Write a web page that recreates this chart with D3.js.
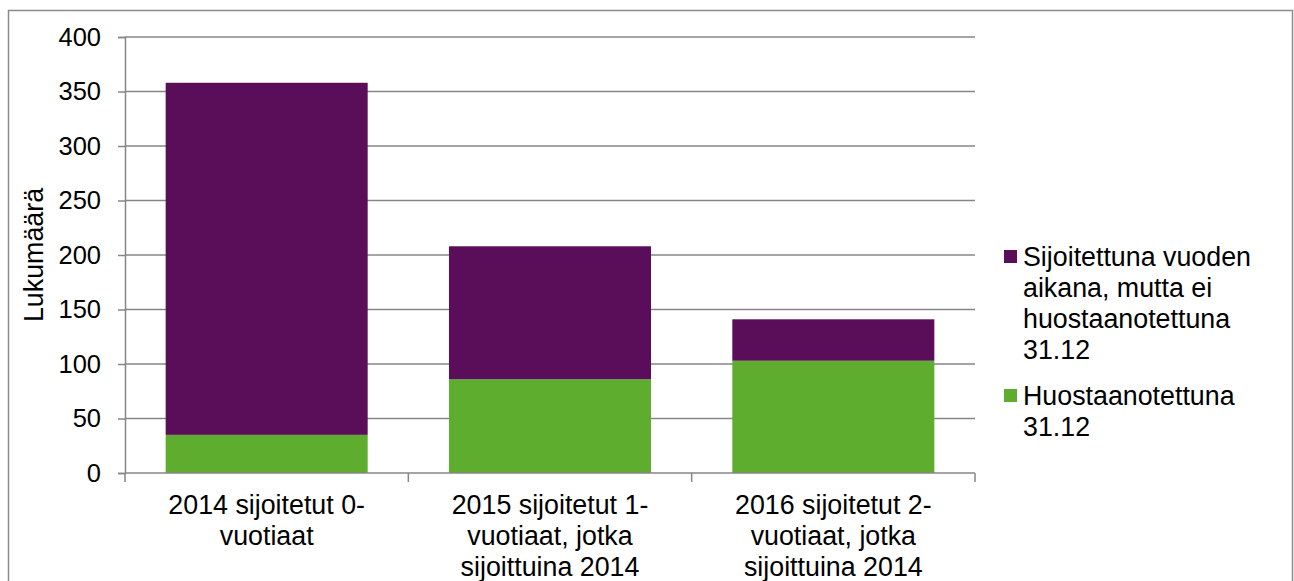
<!DOCTYPE html>
<html>
<head>
<meta charset="utf-8">
<script src="https://cdn.jsdelivr.net/npm/d3@7"></script>
<style>
  html, body { margin: 0; padding: 0; background: #fff; }
  svg { display: block; font-family: "Liberation Sans", Arial, sans-serif; }
</style>
</head>
<body>
<div id="chart"></div>
<script>
// pinotut pylväät: sijoitetut lapset kohorteittain

const categories = [
  ["2014 sijoitetut 0-", "vuotiaat"],
  ["2015 sijoitetut 1-", "vuotiaat, jotka", "sijoittuina 2014"],
  ["2016 sijoitetut 2-", "vuotiaat, jotka", "sijoittuina 2014"]
];
const huostaan = [35, 86, 103];          // Huostaanotettuna 31.12
const sijoitettuEiHuostaan = [323, 122, 38]; // Sijoitettuna vuoden aikana, mutta ei huostaanotettuna 31.12
const yTicks = [0, 50, 100, 150, 200, 250, 300, 350, 400];
const seriesNames = [
  ["Sijoitettuna vuoden", "aikana, mutta ei", "huostaanotettuna", "31.12"],
  ["Huostaanotettuna", "31.12"]
];
const colors = ["#5a0d59", "#5fad2e"];

const width = 1294, height = 581;
const plot = { left: 125, right: 975, top: 37, bottom: 473 };
const fontSize = 26.8;
const tickFontSize = 25.5;

const svg = d3.select("#chart").append("svg")
  .attr("width", width)
  .attr("height", height);

// ulkoreunus
svg.append("rect")
  .attr("x", 8.5).attr("y", 10.5)
  .attr("width", 1284).attr("height", 600)
  .attr("fill", "none")
  .attr("stroke", "#8c8c8c")
  .attr("stroke-width", 1.5);

const x = d3.scaleBand()
  .domain(d3.range(categories.length))
  .range([plot.left, plot.right])
  .paddingInner(0.287)
  .paddingOuter(0.1435);

const y = d3.scaleLinear().domain([0, 400]).range([plot.bottom, plot.top]);

// ruudukko
svg.append("g")
  .selectAll("line")
  .data(yTicks.filter(d => d > 0))
  .join("line")
  .attr("x1", plot.left).attr("x2", plot.right)
  .attr("y1", d => y(d)).attr("y2", d => y(d))
  .attr("stroke", "#868686")
  .attr("stroke-width", 1.5);

// pylväät
const stacked = categories.map((c, i) => [
  { y0: 0, y1: huostaan[i], c: colors[1] },
  { y0: huostaan[i], y1: huostaan[i] + sijoitettuEiHuostaan[i], c: colors[0] }
]);

svg.append("g")
  .selectAll("g")
  .data(stacked)
  .join("g")
  .selectAll("rect")
  .data((d, i) => d.map(s => ({ ...s, i })))
  .join("rect")
  .attr("x", d => x(d.i))
  .attr("width", x.bandwidth())
  .attr("y", d => y(d.y1))
  .attr("height", d => y(d.y0) - y(d.y1))
  .attr("fill", d => d.c);

// y-akseli
const yAxisG = svg.append("g")
  .attr("transform", `translate(${plot.left},0)`)
  .call(d3.axisLeft(y).tickValues(yTicks).tickSize(7).tickPadding(17));
yAxisG.select(".domain").attr("stroke", "#868686").attr("stroke-width", 1.5);
yAxisG.selectAll(".tick line").attr("stroke", "#868686").attr("stroke-width", 1.5);
yAxisG.selectAll(".tick text")
  .attr("font-size", tickFontSize)
  .attr("font-family", "Liberation Sans, Arial, sans-serif")
  .attr("fill", "#000");

// x-akseli
svg.append("line")
  .attr("x1", plot.left).attr("x2", plot.right)
  .attr("y1", plot.bottom).attr("y2", plot.bottom)
  .attr("stroke", "#868686").attr("stroke-width", 1.5);

const step = x.step();
svg.append("g")
  .selectAll("line")
  .data(d3.range(categories.length + 1))
  .join("line")
  .attr("x1", i => plot.left + i * step)
  .attr("x2", i => plot.left + i * step)
  .attr("y1", plot.bottom).attr("y2", plot.bottom + 9)
  .attr("stroke", "#868686").attr("stroke-width", 1.5);

svg.append("g")
  .selectAll("text")
  .data(categories)
  .join("text")
  .attr("x", (d, i) => x(i) + x.bandwidth() / 2)
  .attr("y", 514)
  .attr("text-anchor", "middle")
  .attr("font-size", fontSize)
  .selectAll("tspan")
  .data(d => d)
  .join("tspan")
  .attr("x", function () { return this.parentNode.getAttribute("x"); })
  .attr("dy", (d, i) => i === 0 ? 0 : 31)
  .text(d => d);

// y-akselin otsikko
svg.append("text")
  .attr("transform", `translate(43,${(plot.top + plot.bottom) / 2}) rotate(-90)`)
  .attr("text-anchor", "middle")
  .attr("font-size", fontSize)
  .text("Lukumäärä");

// selite
const legendTop = [266, 405];
const legend = svg.append("g")
  .selectAll("g")
  .data(seriesNames)
  .join("g");

legend.append("rect")
  .attr("x", 1004)
  .attr("y", (d, i) => legendTop[i] - 16)
  .attr("width", 13).attr("height", 13)
  .attr("fill", (d, i) => colors[i]);

legend.append("text")
  .attr("x", 1023)
  .attr("y", (d, i) => legendTop[i])
  .attr("font-size", fontSize)
  .selectAll("tspan")
  .data(d => d)
  .join("tspan")
  .attr("x", 1023)
  .attr("dy", (d, i) => i === 0 ? 0 : 31)
  .text(d => d);
</script>
</body>
</html>
